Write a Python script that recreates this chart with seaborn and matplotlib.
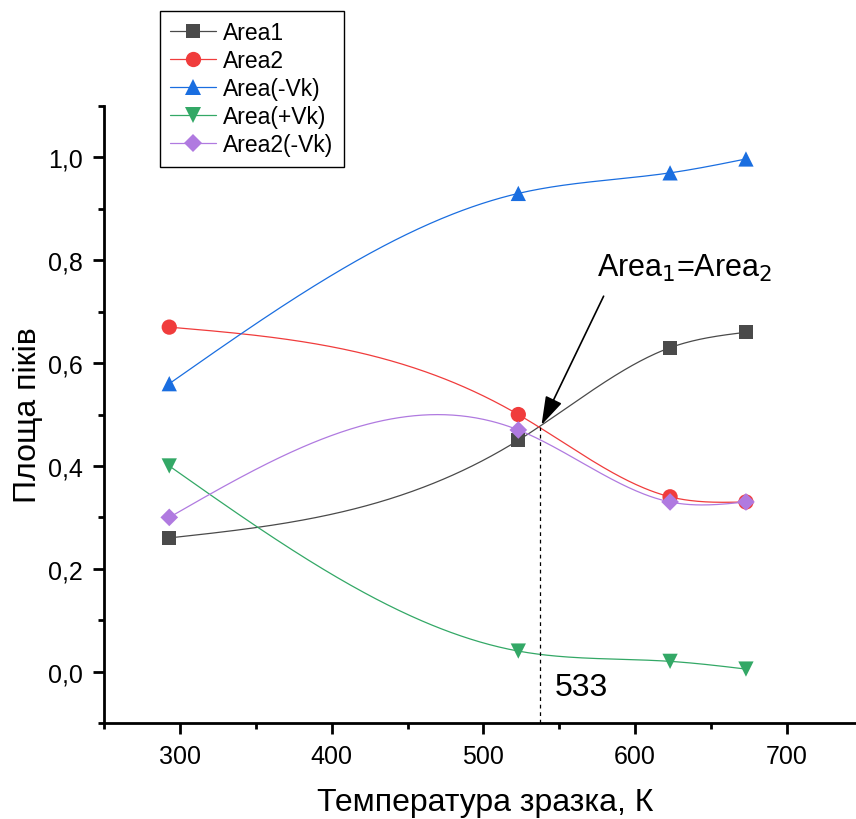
import numpy as np
import pandas as pd
import matplotlib
matplotlib.use("Agg")
import matplotlib.pyplot as plt
import seaborn as sns
from matplotlib.ticker import MultipleLocator, FuncFormatter

temps = [293, 523, 623, 673]
area1 = [0.26, 0.45, 0.63, 0.66]
area2 = [0.67, 0.50, 0.34, 0.33]
area_neg_vk = [0.56, 0.93, 0.97, 0.997]
area_pos_vk = [0.40, 0.04, 0.02, 0.005]
area2_neg_vk = [0.30, 0.47, 0.33, 0.33]

series_names = ["Area1", "Area2", "Area(-Vk)", "Area(+Vk)", "Area2(-Vk)"]
series_vals = [area1, area2, area_neg_vk, area_pos_vk, area2_neg_vk]
colors = ["#4a4a4a", "#f03c3c", "#1a6ee0", "#33a866", "#b07ae0"]
markers = ["s", "o", "^", "v", "D"]
msizes = [10, 11, 11, 11, 9]

cross_x = 537.5
cross_y = 0.475
cross_label = "533"


def natural_spline(x, y, xs):
    x = np.asarray(x, float)
    y = np.asarray(y, float)
    n = len(x)
    h = np.diff(x)
    A = np.zeros((n, n))
    b = np.zeros(n)
    A[0, 0] = 1
    A[-1, -1] = 1
    for i in range(1, n - 1):
        A[i, i - 1] = h[i - 1]
        A[i, i] = 2 * (h[i - 1] + h[i])
        A[i, i + 1] = h[i]
        b[i] = 3 * ((y[i + 1] - y[i]) / h[i] - (y[i] - y[i - 1]) / h[i - 1])
    c = np.linalg.solve(A, b)
    out = np.empty_like(xs)
    for k, xv in enumerate(xs):
        i = min(max(np.searchsorted(x, xv) - 1, 0), n - 2)
        dx = xv - x[i]
        bi = (y[i + 1] - y[i]) / h[i] - h[i] * (2 * c[i] + c[i + 1]) / 3
        di = (c[i + 1] - c[i]) / (3 * h[i])
        out[k] = y[i] + bi * dx + c[i] * dx ** 2 + di * dx ** 3
    return out


sns.set_theme(style="ticks")
plt.rcParams["font.family"] = ["Liberation Sans", "DejaVu Sans"]
plt.rcParams["text.color"] = "black"
plt.rcParams["axes.labelcolor"] = "black"
plt.rcParams["xtick.color"] = "black"
plt.rcParams["ytick.color"] = "black"

fig = plt.figure(figsize=(8.56, 8.2), dpi=100)
ax = fig.add_axes([0.1215, 0.117, 0.89, 0.7525])

xs = np.linspace(temps[0], temps[-1], 300)
handles = []
for name, vals, col, mk, ms in zip(series_names, series_vals, colors, markers, msizes):
    smooth = pd.DataFrame({"T": xs, "v": natural_spline(temps, vals, xs)})
    sns.lineplot(data=smooth, x="T", y="v", ax=ax, color=col, lw=0.9)
    pts = pd.DataFrame({"T": temps, "v": vals})
    sns.scatterplot(data=pts, x="T", y="v", ax=ax, color=col, marker=mk,
                    s=ms ** 2, edgecolor="none", zorder=3)
    handles.append(plt.Line2D([], [], color=col, lw=0.9, marker=mk,
                              markersize=ms, markeredgewidth=0, label=name))

ax.set_xlim(250, 752)
ax.set_ylim(-0.1, 1.1)
ax.xaxis.set_major_locator(MultipleLocator(100))
ax.xaxis.set_minor_locator(MultipleLocator(50))
ax.yaxis.set_major_locator(MultipleLocator(0.2))
ax.yaxis.set_minor_locator(MultipleLocator(0.1))
ax.yaxis.set_major_formatter(FuncFormatter(lambda v, p: f"{v:.1f}".replace(".", ",")))
ax.tick_params(axis="both", which="major", direction="out", length=8, width=2,
               labelsize=18, color="black", labelcolor="black", pad=7)
ax.tick_params(axis="both", which="minor", direction="out", length=4, width=2,
               color="black")
for s in ["left", "bottom"]:
    ax.spines[s].set_linewidth(2)
    ax.spines[s].set_color("black")
sns.despine(ax=ax)
ax.set_xlabel("Температура зразка, К", fontsize=23, labelpad=14, color="black")
ax.set_ylabel("Площа піків", fontsize=23, labelpad=4, color="black")

ax.plot([cross_x, cross_x], [-0.1, cross_y], ls=(0, (3, 3)), color="black", lw=0.9)
ax.annotate("", xy=(cross_x, cross_y), xytext=(580, 0.735),
            arrowprops=dict(arrowstyle="-|>,head_length=0.8,head_width=0.25",
                            color="black", lw=1.2, mutation_scale=22))
ax.text(575, 0.755, r"Area$_1$=Area$_2$", fontsize=22, ha="left", va="bottom",
        color="black")
ax.text(547, -0.03, cross_label, fontsize=23, ha="left", va="center", color="black")

leg = fig.legend(handles=handles, loc="upper left", bbox_to_anchor=(0.187, 0.9854),
                 bbox_transform=fig.transFigure, fontsize=16.5, frameon=True,
                 fancybox=False, edgecolor="black", framealpha=1, borderaxespad=0,
                 handlelength=2.0, borderpad=0.45, labelspacing=0.22,
                 handletextpad=0.3)
for t in leg.get_texts():
    t.set_color("black")

fig.savefig("out.png", dpi=100)
